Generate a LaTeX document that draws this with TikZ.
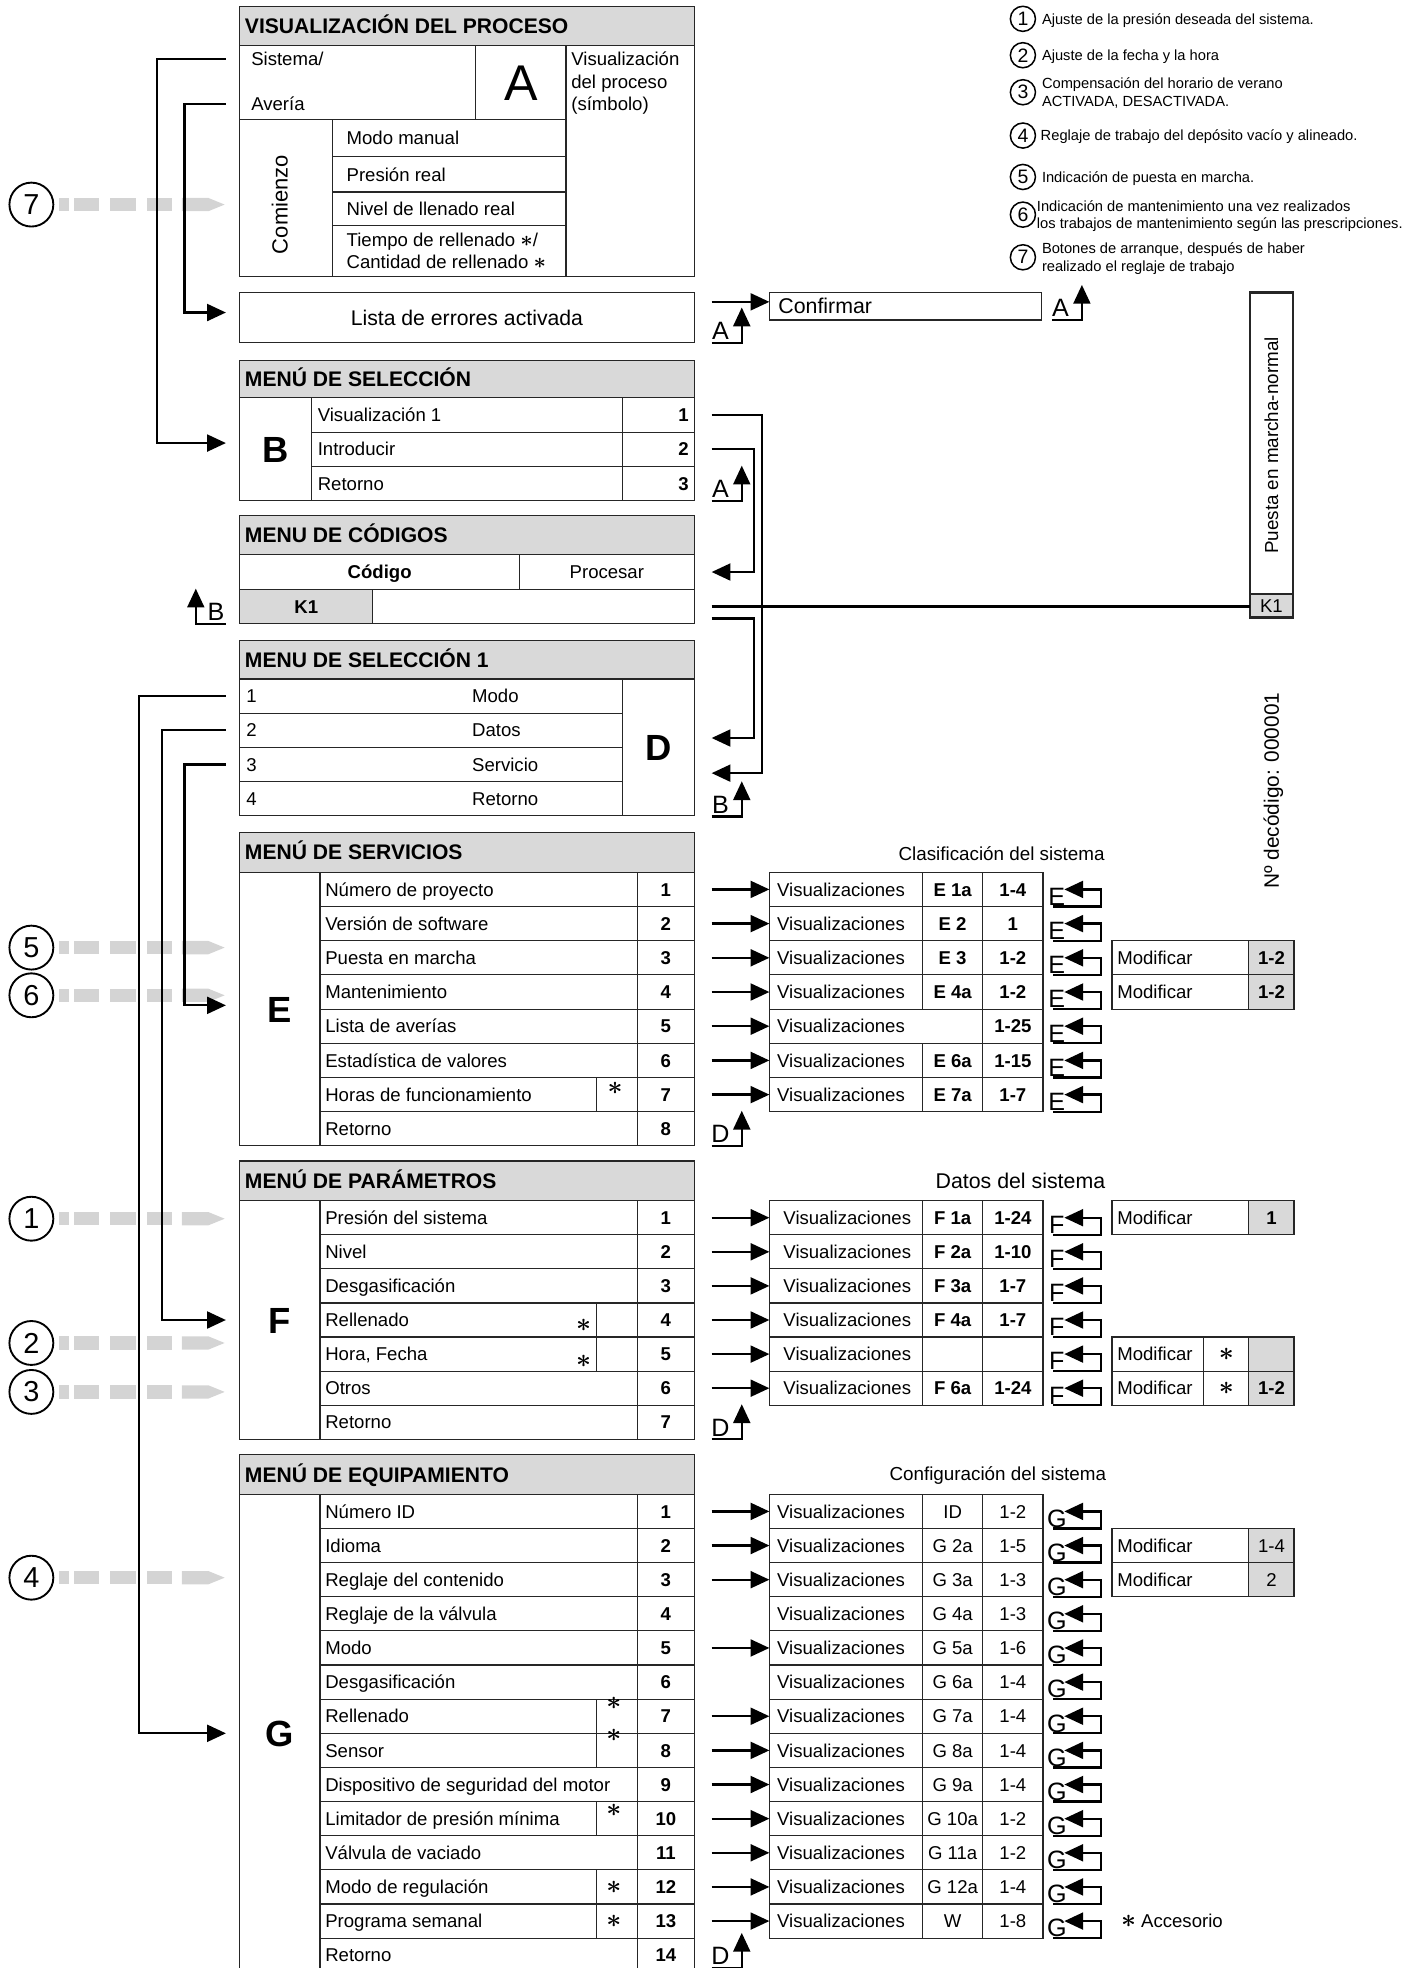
\documentclass[tikz,border=0pt]{standalone}
\usepackage{fontspec}
\setmainfont{Liberation Sans}
\usetikzlibrary{arrows.meta}
\newcommand\bodyf{\fontsize{14.8}{18}\selectfont}
\newcommand\hdrf{\fontsize{16.8}{20}\selectfont\bfseries}
\newcommand\legf{\fontsize{11.7}{14}\selectfont}
\newcommand\bigf{\fontsize{29}{30}\selectfont\bfseries}
\newcommand\letfnt{\fontsize{20}{20}\selectfont}
\newcommand\bst{{\fontsize{21}{21}\selectfont\boldmath$\ast$}}
\newcommand\sst{{\fontsize{17}{17}\selectfont\boldmath$\ast$}}
\newcommand\tcell[7]{\node[cellb,#6,minimum width={(#4-#2)*1pt},minimum height={(#5-#3)*1pt}] (#1) at ({(#2+#4)/2},{(#3+#5)/2}) {#7};}
\newcommand\upret[4]{%
  \node[letf,anchor=base,inner sep=0pt] (#1) at ({#2+7},{#3-2.5}) {#4};
  \coordinate (#1u) at (#2,#3);
  \draw[conn] (#1u) -- ++(24,0) -- ++(0,-28);}
\newcommand\retl[4]{%
  \node[letf,anchor=base,inner sep=0pt] (#1) at (842,{#3-1}) {#4};
  \coordinate (#1u) at (839,#3);
  \draw[conn] (#1u) -- (877,#3) -- (877,#2) -- (848,#2);}
\newcommand\gdash[3]{%
  \fill[gfill] (47,{#2-5.3}) rectangle (55,{#2+5.3});
  \fill[gfill] (59,{#2-5.3}) rectangle (79,{#2+5.3});
  \fill[gfill] (88,{#2-5.3}) rectangle (108,{#2+5.3});
  \fill[gfill] (117,{#2-5.3}) rectangle (137,{#2+5.3});
  \fill[gfill] (145,{#2-5.3}) -- (166,{#2-5.3}) -- (179,#2) -- (166,{#2+5.3}) -- (145,{#2+5.3}) -- cycle;
  \node[numc] (#1) at (25,#2) {#3};}
\tikzset{
 cellb/.style={draw=black!85,line width=0.9pt,inner sep=0pt,outer sep=0pt},
 hdr/.style={fill=black!15},
 gry/.style={fill=black!15},
 tb/.style={font=\bodyf,text height=10.6pt,text depth=0pt,inner sep=0pt},
 tbb/.style={font=\bodyf\bfseries,text height=10.6pt,text depth=0pt,inner sep=0pt},
 th/.style={font=\hdrf,text height=12pt,text depth=0pt,inner sep=0pt},
 big/.style={font=\bigf,text height=20.8pt,text depth=0pt},
 conn/.style={line width=1.8pt,-{Triangle[length=15pt,width=13.5pt]}},
 wire/.style={line width=1.8pt},
 gfill/.style={fill=black!17},
 numc/.style={circle,draw,line width=1.5pt,minimum size=35pt,inner sep=0pt,font=\fontsize{23}{23}\selectfont},
 legc/.style={circle,draw,line width=1.2pt,minimum size=20pt,inner sep=0pt,font=\fontsize{15.5}{16}\selectfont},
 legt/.style={anchor=west,font=\legf,text height=8.4pt,text depth=0pt,inner sep=0pt},
 stx/.style={inner sep=0pt},
 letf/.style={font=\letfnt}
}
\begin{document}
\begin{tikzpicture}[x=1pt,y=-1pt]
\useasboundingbox (0,0) rectangle (1133,1568);

% ===== legend
\foreach \n/\y in {1/15,2/44,3/73.5,4/108,5/141,6/171,7/205}{\node[legc] (lg\n) at (815,\y) {\n};}
\node[legt] (lt1) at (830,15) {Ajuste de la presión deseada del sistema.};
\node[legt] (lt2) at (830,44) {Ajuste de la fecha y la hora};
\node[legt] (lt3a) at (830,66.5) {Compensación del horario de verano};
\node[legt] (lt3b) at (830,80.5) {ACTIVADA, DESACTIVADA.};
\node[legt] (lt4) at (829,108) {Reglaje de trabajo del depósito vacío y alineado.};
\node[legt] (lt5) at (830,141) {Indicación de puesta en marcha.};
\node[legt] (lt6a) at (826,164) {Indicación de mantenimiento una vez realizados};
\node[legt] (lt6b) at (826,178) {los trabajos de mantenimiento según las prescripciones.};
\node[legt] (lt7a) at (830,198) {Botones de arranque, después de haber};
\node[legt] (lt7b) at (830,212) {realizado el reglaje de trabajo};

% ===== gray dashed markers
\gdash{m7}{163}{7}
\gdash{m5}{755}{5}
\gdash{m6}{793}{6}
\gdash{m1}{971}{1}
\gdash{m2}{1070}{2}
\gdash{m3}{1109}{3}
\gdash{m4}{1257}{4}

% ===== top box
\tcell{vpH}{191}{5}{553}{36}{hdr}{}
\node[th,anchor=west] (vpHt) at (195,20.5) {VISUALIZACIÓN DEL PROCESO};
\tcell{vpSA}{191}{36}{379}{95}{}{}
\node[tb,anchor=west] (vpS) at (200,47) {Sistema/};
\node[tb,anchor=west] (vpAv) at (200,83) {Avería};
\tcell{vpA}{379}{36}{451}{95}{font=\fontsize{40}{40}\selectfont,text height=28.6pt,text depth=0pt}{A}
\tcell{vpR}{451}{36}{553}{220}{}{}
\node[tb,anchor=west] (vpR1) at (455,47) {Visualización};
\node[tb,anchor=west] (vpR2) at (455,65) {del proceso};
\node[tb,anchor=west] (vpR3) at (455,83) {(símbolo)};
\tcell{vpC}{191}{95}{265}{220}{}{}
\node[rotate=90,inner sep=0pt,font=\fontsize{17.5}{18}\selectfont,text height=12.5pt,text depth=0pt] (vpCt) at (223,163) {Comienzo};
\tcell{vp1}{265}{95}{451}{125}{}{}
\node[tb,anchor=west] (vp1t) at (276,110) {Modo manual};
\tcell{vp2}{265}{125}{451}{153}{}{}
\node[tb,anchor=west] (vp2t) at (276,139) {Presión real};
\tcell{vp3}{265}{153}{451}{180}{}{}
\node[tb,anchor=west] (vp3t) at (276,166.5) {Nivel de llenado real};
\tcell{vp4}{265}{180}{451}{220}{}{}
\node[tb,anchor=west] (vp4a) at (276,191) {Tiempo de rellenado \sst/};
\node[tb,anchor=west] (vp4b) at (276,209) {Cantidad de rellenado \sst};

% ===== lista / confirmar
\tcell{lista}{191}{233}{553}{273}{font=\fontsize{16.9}{18}\selectfont,text height=12.1pt,text depth=0pt}{Lista de errores activada}
\tcell{confirm}{613}{233}{830}{255}{}{}
\node[anchor=west,inner sep=0pt,font=\fontsize{17}{18}\selectfont,text height=12.2pt,text depth=0pt] (confirmt) at (620,243.5) {Confirmar};
\coordinate (cfs) at ([xshift=14pt,yshift=12.5pt]lista.east);
\draw[conn] (cfs) -- (cfs -| confirm.west);
\upret{upA1}{567}{273}{A}
\upret{upA3}{838}{255}{A}

% ===== menu de seleccion
\tcell{msH}{191}{287}{553}{317}{hdr}{}
\node[th,anchor=west] (msHt) at (195,302) {MENÚ DE SELECCIÓN};
\tcell{msB}{191}{317}{248}{399}{big}{B}
\foreach \i/\nm in {1/Visualización 1,2/Introducir,3/Retorno}{
 \pgfmathsetmacro\yt{317+(\i-1)*27.333}
 \pgfmathsetmacro\yb{\yt+27.333}
 \pgfmathsetmacro\yc{\yt+13.667}
 \tcell{msr\i}{248}{\yt}{496}{\yb}{}{}
 \node[tb,anchor=west] (mst\i) at (253,\yc) {\nm};
 \tcell{msn\i}{496}{\yt}{553}{\yb}{}{}
 \node[tbb,anchor=east] (msnt\i) at (549,\yc) {\i};
}
\upret{upA2}{567}{399}{A}

% ===== menu de codigos
\tcell{mcH}{191}{411}{553}{442}{hdr}{}
\node[th,anchor=west] (mcHt) at (195,426.5) {MENU DE CÓDIGOS};
\tcell{mcCod}{191}{442}{414}{469.5}{tbb}{Código}
\tcell{mcPro}{414}{442}{553}{469.5}{tb}{Procesar}
\tcell{mcK}{191}{469.5}{297}{497}{tbb,gry}{K1}
\tcell{mcE}{297}{469.5}{553}{497}{}{}
\node[letf,anchor=base,inner sep=0pt] (upB0) at (172,494.5) {B};
\coordinate (upB0u) at (180,497);
\draw[conn] (upB0u) -- ++(-24,0) -- ++(0,-28);

% ===== puesta en marcha box
\tcell{pm}{996}{233}{1030}{473}{line width=1.8pt}{}
\node[rotate=90,inner sep=0pt,font=\fontsize{15}{16}\selectfont,text height=10.8pt,text depth=0pt] (pmt) at (1013,355) {Puesta en marcha-normal};
\tcell{pmK}{996}{473}{1030}{492}{line width=1.8pt,gry,tb}{K1}
\node[rotate=90,inner sep=0pt,font=\fontsize{16.6}{17}\selectfont,text height=11.9pt,text depth=0pt] (deco) at (1013,630) {Nº decódigo: 000001};

% ===== menu de seleccion 1
\tcell{s1H}{191}{510}{553}{541}{hdr}{}
\node[th,anchor=west] (s1Ht) at (195,525.5) {MENU DE SELECCIÓN 1};
\foreach \i/\nm in {1/Modo,2/Datos,3/Servicio,4/Retorno}{
 \pgfmathsetmacro\yt{541+(\i-1)*27.25}
 \pgfmathsetmacro\yb{\yt+27.25}
 \pgfmathsetmacro\yc{\yt+13.625}
 \tcell{s1r\i}{191}{\yt}{496}{\yb}{}{}
 \node[tb,anchor=west] (s1n\i) at (196,\yc) {\i};
 \node[tb,anchor=west] (s1t\i) at (376,\yc) {\nm};
}
\tcell{s1D}{496}{541}{553}{650}{big}{D}
\upret{upB1}{567}{650.5}{B}

% ===== right connectors of upper menus
\draw[conn] ([xshift=14pt]msn1.east) -- ++(40,0) |- ([xshift=14pt,yshift=-20.5pt]s1D.east);
\draw[conn] ([xshift=14pt]msn2.east) -- ++(34,0) |- ([xshift=14pt]mcPro.east);
\draw[wire] ([xshift=14pt]mcE.east) -- (mcE.east -| pmK.west);
\draw[conn] ([xshift=14pt,yshift=-9.5pt]mcE.east) -- ++(34,0) |- ([xshift=14pt,yshift=7.5pt]s1D.east);

% ===== menu de servicios
\tcell{svH}{191}{663}{553}{695}{hdr}{}
\node[th,anchor=west] (svHt) at (195,679) {MENÚ DE SERVICIOS};
\tcell{svE}{191}{695}{255}{913}{big}{E}
\foreach \i/\nm in {1/Número de proyecto,2/Versión de software,3/Puesta en marcha,4/Mantenimiento,5/Lista de averías,6/Estadística de valores,7/Horas de funcionamiento,8/Retorno}{
 \pgfmathsetmacro\yt{695+(\i-1)*27.25}
 \pgfmathsetmacro\yb{\yt+27.25}
 \pgfmathsetmacro\yc{\yt+13.625}
 \tcell{svr\i}{255}{\yt}{508}{\yb}{}{}
 \node[tb,anchor=west] (svt\i) at (259,\yc) {\nm};
 \tcell{svn\i}{508}{\yt}{553}{\yb}{tbb}{\i}
}
\tcell{svs7}{475}{858.5}{508}{885.75}{}{}
\node[stx] (svst7) at (490,867) {\bst};
\node[inner sep=0pt,font=\fontsize{15}{16}\selectfont] (clas) at (798,680) {Clasificación del sistema};
\foreach \i/\cc/\vv in {1/E 1a/1-4,2/E 2/1,3/E 3/1-2,4/E 4a/1-2,6/E 6a/1-15,7/E 7a/1-7}{
 \pgfmathsetmacro\yt{695+(\i-1)*27.25}
 \pgfmathsetmacro\yb{\yt+27.25}
 \pgfmathsetmacro\yc{\yt+13.625}
 \tcell{etv\i}{613}{\yt}{735}{\yb}{}{}
 \node[tb,anchor=west] (etvt\i) at (619,\yc) {Visualizaciones};
 \tcell{etc\i}{735}{\yt}{783}{\yb}{tbb}{\cc}
 \tcell{etn\i}{783}{\yt}{831}{\yb}{tbb}{\vv}
}
\tcell{etv5}{613}{804}{783}{831.25}{}{}
\node[tb,anchor=west] (etvt5) at (619,817.6) {Visualizaciones};
\tcell{etn5}{783}{804}{831}{831.25}{tbb}{1-25}
\foreach \i in {1,...,7}{
 \pgfmathsetmacro\yt{695+(\i-1)*27.25}
 \pgfmathsetmacro\yb{\yt+27.25}
 \pgfmathsetmacro\yc{\yt+13.625}
 \draw[conn] ([xshift=14pt]svn\i.east) -- (etv\i.west);
 \retl{ere\i}{\yc}{\yb}{E}
}
\foreach \i in {3,4}{
 \pgfmathsetmacro\yt{695+(\i-1)*27.25}
 \pgfmathsetmacro\yb{\yt+27.25}
 \pgfmathsetmacro\yc{\yt+13.625}
 \tcell{emA\i}{886}{\yt}{995}{\yb}{}{}
 \node[tb,anchor=west] (emAt\i) at (890,\yc) {Modificar};
 \tcell{emB\i}{995}{\yt}{1031}{\yb}{tbb,gry}{1-2}
}
\upret{upD1}{567}{913}{D}

% ===== menu de parametros
\tcell{paH}{191}{925}{553}{956.6}{hdr}{}
\node[th,anchor=west] (paHt) at (195,941) {MENÚ DE PARÁMETROS};
\tcell{paF}{191}{956.6}{255}{1146.8}{big}{F}
\foreach \i/\nm in {1/Presión del sistema,2/Nivel,3/Desgasificación,4/Rellenado,5/{Hora, Fecha},6/Otros,7/Retorno}{
 \pgfmathsetmacro\yt{956.6+(\i-1)*27.171}
 \pgfmathsetmacro\yb{\yt+27.171}
 \pgfmathsetmacro\yc{\yt+13.586}
 \tcell{par\i}{255}{\yt}{508}{\yb}{}{}
 \node[tb,anchor=west] (pat\i) at (259,\yc) {\nm};
 \tcell{pan\i}{508}{\yt}{553}{\yb}{tbb}{\i}
}
\tcell{pas4}{475}{1038.11}{508}{1065.29}{}{}
\tcell{pas5}{475}{1065.29}{508}{1092.46}{}{}
\node[stx] (past4) at (465,1056) {\bst};
\node[stx] (past5) at (465,1085) {\bst};
\node[inner sep=0pt,font=\fontsize{17}{18}\selectfont] (datos) at (813,941) {Datos del sistema};
\foreach \i/\cc/\vv in {1/F 1a/1-24,2/F 2a/1-10,3/F 3a/1-7,4/F 4a/1-7,5//,6/F 6a/1-24}{
 \pgfmathsetmacro\yt{956.6+(\i-1)*27.171}
 \pgfmathsetmacro\yb{\yt+27.171}
 \pgfmathsetmacro\yc{\yt+13.586}
 \tcell{ftv\i}{613}{\yt}{735}{\yb}{}{}
 \node[tb,anchor=west] (ftvt\i) at (624,\yc) {Visualizaciones};
 \tcell{ftc\i}{735}{\yt}{783}{\yb}{tbb}{\cc}
 \tcell{ftn\i}{783}{\yt}{831}{\yb}{tbb}{\vv}
 \draw[conn] ([xshift=14pt]pan\i.east) -- (ftv\i.west);
 \retl{fre\i}{\yc}{\yb}{F}
}
\tcell{fmA1}{886}{956.6}{995}{983.77}{}{}
\node[tb,anchor=west] (fmAt1) at (890,970.2) {Modificar};
\tcell{fmB1}{995}{956.6}{1031}{983.77}{tbb,gry}{1}
\tcell{fmA5}{886}{1065.29}{959}{1092.46}{}{}
\node[tb,anchor=west] (fmAt5) at (890,1078.9) {Modificar};
\tcell{fmS5}{959}{1065.29}{995}{1092.46}{stx}{\bst}
\tcell{fmB5}{995}{1065.29}{1031}{1092.46}{gry}{}
\tcell{fmA6}{886}{1092.46}{959}{1119.63}{}{}
\node[tb,anchor=west] (fmAt6) at (890,1106) {Modificar};
\tcell{fmS6}{959}{1092.46}{995}{1119.63}{stx}{\bst}
\tcell{fmB6}{995}{1092.46}{1031}{1119.63}{tbb,gry}{1-2}
\upret{upD2}{567}{1146.8}{D}

% ===== menu de equipamiento
\tcell{eqH}{191}{1159}{553}{1190.6}{hdr}{}
\node[th,anchor=west] (eqHt) at (195,1175) {MENÚ DE EQUIPAMIENTO};
\tcell{eqG}{191}{1190.6}{255}{1571.4}{big}{G}
\foreach \i/\nm in {1/Número ID,2/Idioma,3/Reglaje del contenido,4/Reglaje de la válvula,5/Modo,6/Desgasificación,7/Rellenado,8/Sensor,9/Dispositivo de seguridad del motor,10/Limitador de presión mínima,11/Válvula de vaciado,12/Modo de regulación,13/Programa semanal,14/Retorno}{
 \pgfmathsetmacro\yt{1190.6+(\i-1)*27.2}
 \pgfmathsetmacro\yb{\yt+27.2}
 \pgfmathsetmacro\yc{\yt+13.6}
 \tcell{eqr\i}{255}{\yt}{508}{\yb}{}{}
 \node[tb,anchor=west] (eqt\i) at (259,\yc) {\nm};
 \tcell{eqn\i}{508}{\yt}{553}{\yb}{tbb}{\i}
}
\foreach \i/\sy in {7/1357,8/1383,10/1442,12/1503.4,13/1530.6}{
 \pgfmathsetmacro\yt{1190.6+(\i-1)*27.2}
 \pgfmathsetmacro\yb{\yt+27.2}
 \tcell{eqs\i}{475}{\yt}{508}{\yb}{}{}
 \node[stx] (eqst\i) at (489,\sy) {\bst};
}
\node[inner sep=0pt,font=\fontsize{15}{16}\selectfont] (conf) at (795,1176) {Configuración del sistema};
\foreach \i/\cc/\vv in {1/ID/1-2,2/G 2a/1-5,3/G 3a/1-3,4/G 4a/1-3,5/G 5a/1-6,6/G 6a/1-4,7/G 7a/1-4,8/G 8a/1-4,9/G 9a/1-4,10/G 10a/1-2,11/G 11a/1-2,12/G 12a/1-4,13/W/1-8}{
 \pgfmathsetmacro\yt{1190.6+(\i-1)*27.2}
 \pgfmathsetmacro\yb{\yt+27.2}
 \pgfmathsetmacro\yc{\yt+13.6}
 \tcell{gtv\i}{613}{\yt}{735}{\yb}{}{}
 \node[tb,anchor=west] (gtvt\i) at (619,\yc) {Visualizaciones};
 \tcell{gtc\i}{735}{\yt}{783}{\yb}{tb}{\cc}
 \tcell{gtn\i}{783}{\yt}{831}{\yb}{tb}{\vv}
 \retl{gre\i}{\yc}{\yb}{G}
}
\foreach \i in {1,2,3,5,7,8,9,10,11,12,13}{
 \draw[conn] ([xshift=14pt]eqn\i.east) -- (gtv\i.west);
}
\tcell{gmA2}{886}{1217.8}{995}{1245}{}{}
\node[tb,anchor=west] (gmAt2) at (890,1231.4) {Modificar};
\tcell{gmB2}{995}{1217.8}{1031}{1245}{tb,gry}{1-4}
\tcell{gmA3}{886}{1245}{995}{1272.2}{}{}
\node[tb,anchor=west] (gmAt3) at (890,1258.6) {Modificar};
\tcell{gmB3}{995}{1245}{1031}{1272.2}{tb,gry}{2}
\node[tb,anchor=west] (acc) at (893,1530.6) {\bst\ Accesorio};
\upret{upD3}{567}{1568}{D}

% ===== left connectors
\draw[conn] ([xshift=-20pt]vpS.west) -- ++(-55,0) |- ([xshift=-11pt,yshift=5pt]msB.west);
\draw[conn] ([xshift=-20pt]vpAv.west) -- ++(-33,0) |- ([xshift=-11pt,yshift=4pt]lista.west);
\draw[conn] ([xshift=-11pt]s1r1.west) -- ++(-69,0) |- ([xshift=-11pt]eqG.west);
\draw[conn] ([xshift=-11pt]s1r2.west) -- ++(-51,0) |- ([xshift=-11pt]paF.west);
\draw[conn] ([xshift=-11pt]s1r3.west) -- ++(-33,0) |- ([xshift=-11pt,yshift=3pt]svE.west);
\end{tikzpicture}
\end{document}
